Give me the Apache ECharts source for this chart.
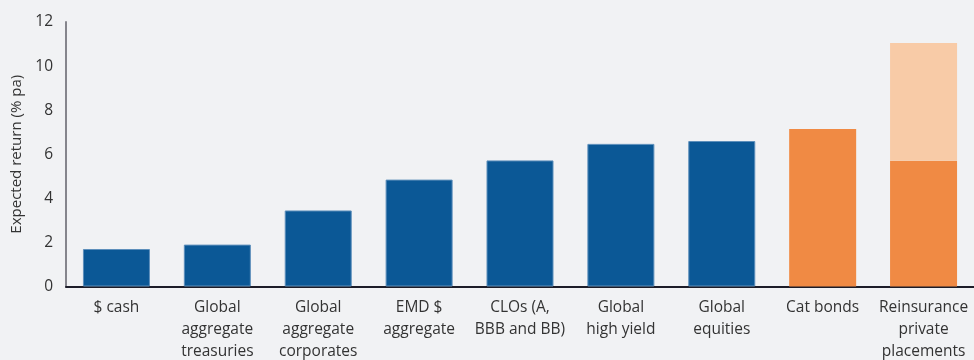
<!DOCTYPE html>
<html>
<head>
<meta charset="utf-8">
<script src="https://cdn.jsdelivr.net/npm/echarts@6/dist/echarts.min.js"></script>
<style>
html,body{margin:0;padding:0;background:#f1f2f4;}
#c{width:974px;height:360px;}
</style>
</head>
<body>
<div id="c"></div>
<script>
const categories = ["$ cash", "Global\naggregate\ntreasuries", "Global\naggregate\ncorporates", "EMD $\naggregate", "CLOs (A,\nBBB and BB)", "Global\nhigh yield", "Global\nequities", "Cat bonds", "Reinsurance\nprivate\nplacements"];
const baseValues = [1.7, 1.9, 3.45, 4.85, 5.72, 6.47, 6.6, 7.15, 5.7];
const upperRange = [null, null, null, null, null, null, null, null, 5.35];
const isInsurance = [false, false, false, false, false, false, false, true, true];
const yTicks = [0, 2, 4, 6, 8, 10, 12];

const chart = echarts.init(document.getElementById('c'), null, {renderer: 'canvas'});
const FONT = "'Open Sans', 'Noto Sans', sans-serif";
chart.setOption({
  backgroundColor: '#f1f2f4',
  animation: false,
  grid: {left: 66, right: 0, top: 22, bottom: 73.5, containLabel: false, outerBoundsMode: 'none'},
  xAxis: {
    type: 'category',
    data: categories,
    axisLine: {lineStyle: {color: '#1c1c28', width: 2}},
    axisTick: {show: false},
    axisLabel: {color: '#333', fontSize: 15.5, fontFamily: FONT, lineHeight: 22, margin: 10, interval: 0}
  },
  yAxis: {
    type: 'value',
    min: yTicks[0], max: yTicks[yTicks.length - 1], interval: 2,
    name: 'Expected return (% pa)',
    nameLocation: 'middle',
    nameGap: 40,
    nameTextStyle: {color: '#333', fontSize: 15, fontFamily: FONT},
    axisLine: {show: true, lineStyle: {color: '#85858c', width: 2}},
    axisTick: {show: false},
    splitLine: {show: false},
    axisLabel: {color: '#333', fontSize: 15.5, fontFamily: FONT, margin: 13}
  },
  series: [
    {
      type: 'bar', stack: 'r', barWidth: 67,
      data: baseValues.map((v, i) => ({
        value: v,
        itemStyle: isInsurance[i]
          ? {color: '#f08a44'}
          : {color: '#0b5896', borderColor: '#5d8fbb', borderWidth: 1}
      }))
    },
    {
      type: 'bar', stack: 'r', barWidth: 67,
      data: upperRange,
      itemStyle: {color: '#f8cba7'}
    }
  ]
});
</script>
</body>
</html>
